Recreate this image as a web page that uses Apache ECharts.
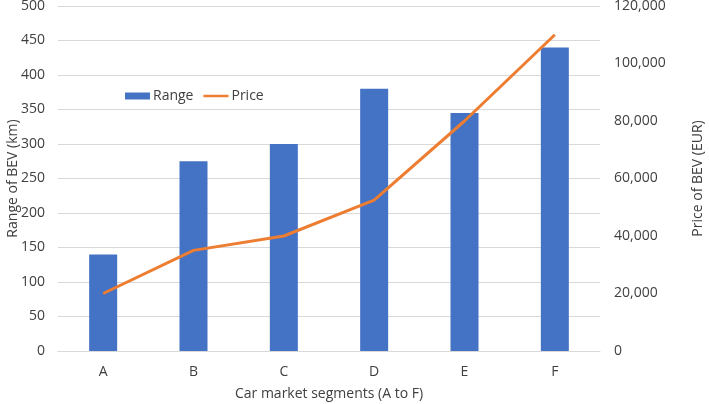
<!DOCTYPE html>
<html><head><meta charset="utf-8">
<script src="https://cdn.jsdelivr.net/npm/echarts@6/dist/echarts.min.js"></script>
<style>html,body{margin:0;padding:0;background:#fff}#c{width:709px;height:404px}</style>
</head><body><div id="c"></div>
<script>
const categories = ['A','B','C','D','E','F'];
const rangeKm = [140, 275, 300, 380, 345, 440];
const priceEur = [20000, 35000, 40000, 52500, 80000, 110000];
const leftTicks = {min:0, max:500, interval:50};
const rightTicks = {min:0, max:120000, interval:20000};

const font = 'Open Sans, Noto Sans, sans-serif';
const chart = echarts.init(document.getElementById('c'), null, {renderer:'canvas'});
chart.setOption({
  animation:false,
  backgroundColor:'#fff',
  textStyle:{fontFamily:font},
  grid:{left:58, right:109, top:6, bottom:53, containLabel:false, outerBoundsMode:'none'},
  legend:{
    left:120, top:84, itemGap:10, itemWidth:25, itemHeight:7,
    textStyle:{fontFamily:font, fontSize:14, color:'#404040', padding:[0,0,0,-2]},
    data:[{name:'Range', icon:'rect'}, {name:'Price', icon:'path://M0,0H10V1H0Z'}]
  },
  xAxis:{
    type:'category', data:categories,
    name:'Car market segments (A to F)', nameLocation:'middle', nameGap:36, nameMoveOverlap:false,
    nameTextStyle:{fontFamily:font, fontSize:14, color:'#404040'},
    axisLine:{lineStyle:{color:'#d9d9d9'}}, axisTick:{show:false},
    axisLabel:{color:'#404040', fontSize:14, margin:14, fontFamily:font}
  },
  yAxis:[{
    type:'value', min:leftTicks.min, max:leftTicks.max, interval:leftTicks.interval,
    name:'Range of BEV (km)', nameLocation:'middle', nameGap:38, nameMoveOverlap:false,
    nameTextStyle:{fontFamily:font, fontSize:14, color:'#404040'},
    axisLine:{show:false}, axisTick:{show:false},
    axisLabel:{color:'#404040', fontSize:14, margin:13, fontFamily:font},
    splitLine:{lineStyle:{color:'#d9d9d9', width:1}}
  },{
    type:'value', min:rightTicks.min, max:rightTicks.max, interval:rightTicks.interval,
    name:'Price of BEV (EUR)', nameLocation:'middle', nameGap:91, nameRotate:90, nameMoveOverlap:false,
    nameTextStyle:{fontFamily:font, fontSize:14, color:'#404040'},
    axisLine:{show:false}, axisTick:{show:false},
    axisLabel:{color:'#404040', fontSize:14, margin:14, fontFamily:font,
      formatter:v=>v.toLocaleString('en-US')},
    splitLine:{show:false}
  }],
  series:[{
    name:'Range', type:'bar', data:rangeKm, yAxisIndex:0, barWidth:28,
    itemStyle:{color:'#4472C4'}
  },{
    name:'Price', type:'line', data:priceEur, yAxisIndex:1, showSymbol:false, symbol:'none',
    lineStyle:{color:'#ED7D31', width:3}, itemStyle:{color:'#ED7D31'}
  }]
});
</script></body></html>
